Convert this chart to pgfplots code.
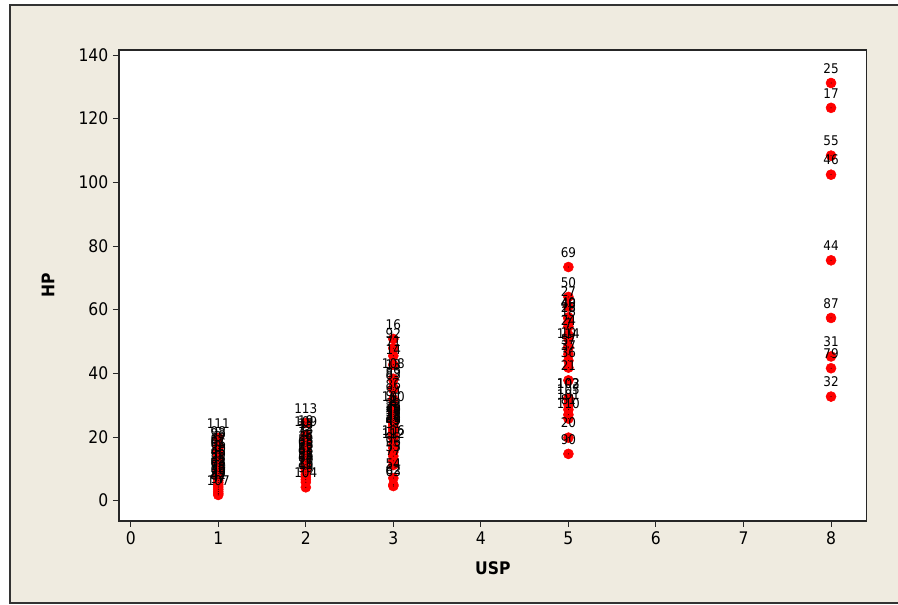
\documentclass[border=0pt]{standalone}
\usepackage{fontspec}
\setmainfont{DejaVu Sans Condensed}
\usepackage{pgfplots}
\pgfplotsset{compat=1.18}
\usepackage{pgfplotstable}
\definecolor{frameBG}{RGB}{239,235,224}

\pgfplotstableread{
x y lab
1 19.7 111
1 17.0 98
1 16.4 93
1 15.6 3
1 14.8 67
1 14.0 61
1 13.2 66
1 12.4 5
1 11.6 80
1 10.8 45
1 10.0 59
1 9.2 9
1 8.5 85
1 7.8 68
1 7.1 74
1 6.4 94
1 5.7 52
1 5.0 60
1 4.3 39
1 3.6 42
1 2.9 47
1 2.3 97
1 1.8 107
2 24.4 113
2 20.6 19
2 20.2 109
2 19.5 15
2 18.6 72
2 17.8 73
2 17.0 6
2 16.2 4
2 15.4 34
2 14.6 58
2 13.8 65
2 13.0 76
2 12.2 82
2 11.4 88
2 10.6 91
2 9.8 56
2 9.0 64
2 8.2 70
2 7.4 26
2 6.6 11
2 5.8 99
2 4.2 104
3 50.8 16
3 47.9 92
3 45.5 71
3 42.7 14
3 38.3 108
3 38.0 13
3 35.5 89
3 35.0 83
3 31.8 86
3 29.6 84
3 28.2 100
3 27.6 1
3 27.0 2
3 26.4 8
3 25.8 22
3 25.2 23
3 24.6 29
3 24.0 30
3 23.4 33
3 22.8 35
3 22.2 38
3 21.6 41
3 21.0 43
3 20.4 49
3 19.6 51
3 17.5 106
3 16.5 112
3 15.3 95
3 14.0 96
3 12.5 53
3 11.2 77
3 7.1 54
3 5.0 62
3 4.6 63
5 73.4 69
5 64.0 50
5 61.0 27
5 57.6 40
5 57.2 48
5 56.0 28
5 54.7 18
5 52.0 24
5 51.0 7
5 48.3 10
5 48.0 114
5 46.0 57
5 44.0 37
5 41.8 36
5 37.8 21
5 32.2 102
5 32.0 103
5 30.2 105
5 28.6 101
5 27.0 81
5 25.8 110
5 19.8 20
5 14.7 90
8 131.2 25
8 123.4 17
8 108.4 55
8 102.4 46
8 75.5 44
8 57.4 87
8 45.3 31
8 41.6 79
8 32.7 32
}\data

\begin{document}
\begin{tikzpicture}
\fill[white] (-89.25pt,-63pt) rectangle (584.25pt,390.75pt);
\fill[frameBG] (-81.75pt,-61.5pt) rectangle (584.25pt,387pt);
\draw[black!80, line width=1pt] (584.25pt,387pt) -- (-81.75pt,387pt) -- (-81.75pt,-61.5pt) -- (584.25pt,-61.5pt);
\begin{axis}[
  at={(0pt,0pt)}, anchor=south west,
  scale only axis, width=560.8pt, height=353.25pt,
  xmin=-0.134, xmax=8.408, ymin=-6.38, ymax=141.57,
  xtick={0,1,...,8}, ytick={0,20,...,140},
  tick align=outside, tick pos=left,
  major tick length=4.5pt,
  axis background/.style={fill=white},
  axis line style={black!85, line width=0.9pt},
  every tick/.style={black!85, line width=0.7pt},
  ticklabel style={font=\fontsize{13}{15}\selectfont},
  /pgf/number format/assume math mode=true,
  xlabel={\textbf{USP}}, ylabel={\textbf{HP}},
  label style={font=\fontsize{13}{15}\selectfont\bfseries},
  xlabel style={at={(axis description cs:0.5,-0.1)}, anchor=center},
  ylabel style={at={(axis description cs:-0.095,0.5)}, anchor=center},
  clip=false,
]
\addplot[only marks, mark=*, mark size=3.75pt, mark options={draw=red, fill=red}]
  table[x=x, y=y]{\data};
\addplot[only marks, mark=*, mark size=0.1pt, mark options={draw=none, fill=none},
  nodes near coords, point meta=explicit symbolic,
  every node near coord/.append style={black, font=\fontsize{10}{12}\selectfont, anchor=center, yshift=11pt, inner sep=0pt}]
  table[x=x, y=y, meta=lab]{\data};
\end{axis}
\pgfresetboundingbox
\useasboundingbox (-89.25pt,-63pt) rectangle (584.25pt,390.75pt);
\end{tikzpicture}
\end{document}
